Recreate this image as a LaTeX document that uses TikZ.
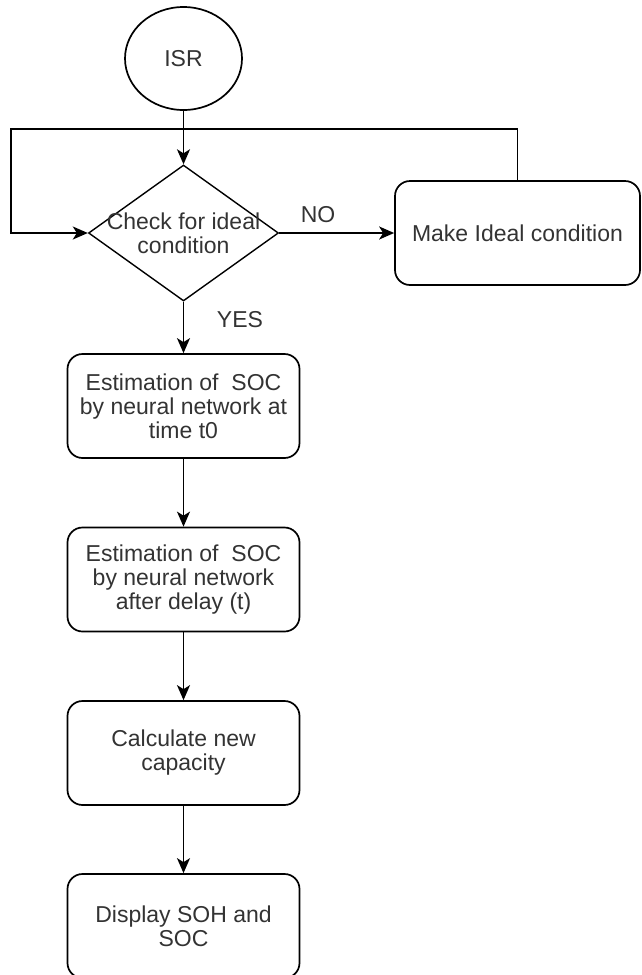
\documentclass[tikz,border=0pt]{standalone}
\usepackage{fontspec}
\setmainfont{Liberation Sans}
\usetikzlibrary{shapes.geometric,arrows.meta}
\definecolor{txt}{HTML}{333333}
\tikzset{
  line/.style={line width=1.7pt, draw=black},
  arr/.style={line, -{Stealth[length=15pt,width=13pt,inset=4pt]}},
  box/.style={line, rounded corners=15pt, minimum width=232pt, minimum height=104pt,
    inner sep=0pt, align=center, text=txt, font=\fontsize{23}{24}\selectfont},
  lbl/.style={text=txt, font=\fontsize{23}{24}\selectfont, inner sep=0pt}
}
\begin{document}
\begin{tikzpicture}[x=1pt,y=-1pt]
\useasboundingbox (0,0) rectangle (641,975);
\clip (0,0) rectangle (641,975);
\node[ellipse, line, minimum width=117pt, minimum height=103pt, inner sep=0pt, lbl] (isr) at (183.5,58.5) {ISR};
\node[diamond, line, line width=1.4pt, minimum width=190pt, minimum height=136pt, inner sep=0pt,
  label={[lbl, align=center]center:Check for ideal\\condition}] (chk) at (183.5,233) {};
\node[box, minimum width=245pt] (make) at (517.5,233) {Make Ideal condition};
\node[box] (b1) at (183.5,406) {Estimation of\ \ SOC\\by neural network at\\time t0};
\node[box] (b2) at (183.5,579.5) {Estimation of\ \ SOC\\by neural network\\after delay (t)};
\node[box] (b3) at (183.5,753) {Calculate new\\capacity};
\node[box] (b4) at (183.5,926) {Display SOH and\\SOC};
\node[lbl] (no) at (318,215) {NO};
\node[lbl] (yes) at (240,320) {YES};
\coordinate (lt) at (10.7,129);
\coordinate (lb) at (10.7,233);
\draw[arr] (isr) -- (chk.north);
\draw[arr] (chk.east) -- (make.west);
\draw[arr] (make.north) |- (lt) -- (lb) -- (chk.west);
\draw[arr] (chk.south) -- (b1.north);
\draw[arr] (b1) -- (b2);
\draw[arr] (b2) -- (b3);
\draw[arr] (b3) -- (b4);
\end{tikzpicture}
\end{document}
